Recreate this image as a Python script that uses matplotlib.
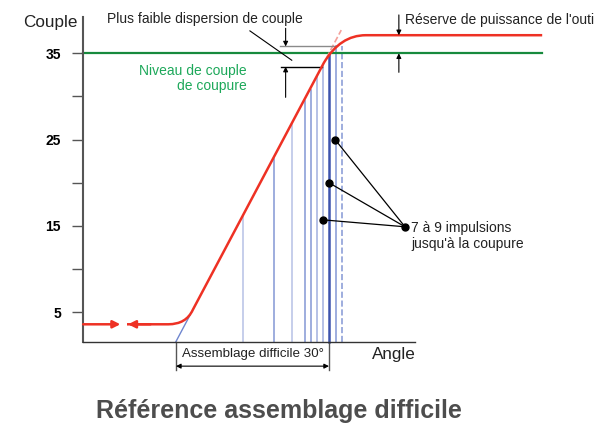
import matplotlib
matplotlib.use("Agg")
import matplotlib.pyplot as plt
from matplotlib.path import Path
from matplotlib.patches import PathPatch

plt.rcParams['font.family'] = ['Liberation Sans', 'DejaVu Sans']

# --- data (angle in degrees, torque in arbitrary couple units) ---
y_ticks = [5, 15, 25, 35]
y_minor = [10, 20, 30]
cut_level = 35.0          # niveau de couple de coupure
max_level = 37.1          # réserve de puissance (palier de l'outil)
idle_level = 3.6          # couple à vide
axis_level = 1.6          # base de l'axe
slope = 1.114             # pente couple / angle

# impulsions
pulse_x = [13.2, 19.2, 22.7, 25.2, 26.4, 27.7, 28.9, 30.1, 31.4, 32.5]
pulse_y = [16.0, 22.7, 26.7, 29.5, 30.8, 32.2, 33.5, 34.8, 35.8, 35.8]
pulse_col = ['#bcc6e8', '#8e9fd8', '#bcc6e8', '#8e9fd8', '#8e9fd8',
             '#a9b6e2', '#a9b6e2', '#3c53ad', '#8e9fd8', '#8e9fd8']
pulse_lw = [1.2, 1.2, 1.2, 1.2, 1.2, 1.2, 1.2, 1.8, 1.2, 1.2]
pulse_ls = ['-'] * 9 + ['--']

# points désignés
dot_x = [31.2, 30.0, 28.9]
dot_y = [25.0, 20.0, 15.7]
dot_target = (44.9, 14.9)

disp_hi = 35.8
disp_lo = 33.45

red = '#ee3124'
green_line = '#178a3d'
green_txt = '#1da85a'
txt = '#222222'

fig = plt.figure(figsize=(5.96, 4.25), dpi=100)
ax = fig.add_axes([0, 0, 1, 1])
ax.set_xlim(-34.5, 82.35)
ax.set_ylim(-8.07, 41.18)

# axes
for s in ['top', 'right']:
    ax.spines[s].set_visible(False)
ax.spines['left'].set_position(('data', -18.2))
ax.spines['left'].set_bounds(axis_level, 39.2)
ax.spines['left'].set_color('#555555')
ax.spines['left'].set_linewidth(1.5)
ax.spines['bottom'].set_position(('data', axis_level))
ax.spines['bottom'].set_bounds(-18.2, 46.9)
ax.spines['bottom'].set_color('#333333')
ax.spines['bottom'].set_linewidth(1.0)
ax.set_xticks([])
ax.set_yticks(y_ticks)
ax.set_yticks(y_minor, minor=True)
ax.set_yticklabels([str(v) for v in y_ticks], fontweight='bold', fontsize=10)
ax.tick_params(axis='y', which='both', length=8, width=1, color='#555555',
               pad=8, direction='out')
ax.patch.set_visible(False)

# niveau de coupure
ax.plot([-18.2, 71.8], [cut_level, cut_level], color=green_line, lw=1.6, zorder=2)

# impulsions
for x, y, c, lw, ls in zip(pulse_x, pulse_y, pulse_col, pulse_lw, pulse_ls):
    ax.plot([x, x], [axis_level, y], color=c, lw=lw, ls=ls, zorder=1)

# prolongements de la droite
ax.plot([0, 2.75], [axis_level, axis_level + slope * 2.75], color='#6f86cf', lw=1, zorder=1)
ax.plot([29.5, 32.4], [axis_level + slope * 29.5, axis_level + slope * 32.4],
        color='#f4a09a', lw=1.2, ls='--', zorder=2)

# courbe de serrage
codes = [Path.MOVETO, Path.LINETO, Path.CURVE3, Path.CURVE3,
         Path.LINETO, Path.CURVE3, Path.CURVE3, Path.LINETO]
verts = [(-9.6, idle_level), (-1.5, idle_level), (2.0, idle_level),
         (3.3, axis_level + slope * 3.3), (29.0, axis_level + slope * 29.0),
         (32.2, max_level), (37.2, max_level), (71.8, max_level)]
ax.add_patch(PathPatch(Path(verts, codes), fill=False, edgecolor=red, lw=1.8, zorder=3))

# flèches du couple à vide
red_arrow = dict(arrowstyle='-|>', color=red, lw=1.8, mutation_scale=11,
                 shrinkA=0, shrinkB=0)
ax.annotate('', xy=(-10.9, idle_level), xytext=(-18.2, idle_level), arrowprops=red_arrow)
ax.annotate('', xy=(-9.4, idle_level), xytext=(-5.0, idle_level), arrowprops=red_arrow)

# dispersion de couple
ax.plot([20.4, 31.2], [disp_hi, disp_hi], color='#8a8a8a', lw=1)
ax.plot([20.6, 28.6], [disp_lo, disp_lo], color='black', lw=1)
arrow_kw = dict(arrowstyle='-|>', color='black', lw=0.8, mutation_scale=7,
                shrinkA=0, shrinkB=0)
ax.annotate('', xy=(21.5, disp_hi), xytext=(21.5, 37.9), arrowprops=arrow_kw)
ax.annotate('', xy=(21.5, disp_lo), xytext=(21.5, 29.9), arrowprops=arrow_kw)
ax.plot([14.5, 22.7], [37.6, 34.2], color='black', lw=0.8)
ax.text(5.6, 39.0, 'Plus faible dispersion de couple', ha='center', va='center',
        fontsize=10, color=txt)

# réserve de puissance (texte tronqué comme dans l'original)
ax.annotate('', xy=(43.7, max_level), xytext=(43.7, 39.45), arrowprops=arrow_kw)
ax.annotate('', xy=(43.7, cut_level), xytext=(43.7, 32.8), arrowprops=arrow_kw)
ax.text(45.0, 38.9, "Réserve de puissance de l'outi", ha='left', va='center',
        fontsize=10, color=txt)

ax.text(13.8, 32.1, 'Niveau de couple\nde coupure', ha='right', va='center',
        fontsize=10, color=green_txt, linespacing=1.15)

# impulsions désignées
for x, y in zip(dot_x, dot_y):
    ax.plot([x, dot_target[0]], [y, dot_target[1]], color='black', lw=0.9, zorder=4)
ax.plot(dot_x + [dot_target[0]], dot_y + [dot_target[1]], 'o', color='black',
        ms=5, zorder=5)
ax.text(46.1, 13.8, "7 à 9 impulsions\njusqu'à la coupure", ha='left', va='center',
        fontsize=10, color=txt, linespacing=1.15)

# assemblage difficile 30°
ax.plot([0, 0], [axis_level, -1.7], color='#555555', lw=1)
ax.plot([30, 30], [axis_level, -1.7], color='#555555', lw=1)
ax.annotate('', xy=(0, -1.25), xytext=(30, -1.25),
            arrowprops=dict(arrowstyle='<|-|>', color='black', lw=0.8,
                            mutation_scale=7, shrinkA=0, shrinkB=0))
ax.text(15.0, 0.1, 'Assemblage difficile 30°', ha='center', va='center',
        fontsize=9.6, color=txt)

ax.text(42.7, 0.05, 'Angle', ha='center', va='center', fontsize=12.3, color=txt)
ax.text(-24.7, 38.6, 'Couple', ha='center', va='center', fontsize=12.3, color=txt)

ax.text(20.2, -6.4, 'Référence assemblage difficile', ha='center', va='center',
        fontsize=18, fontweight='bold', color='#4d4d4d')

fig.savefig('out.png', dpi=100)
